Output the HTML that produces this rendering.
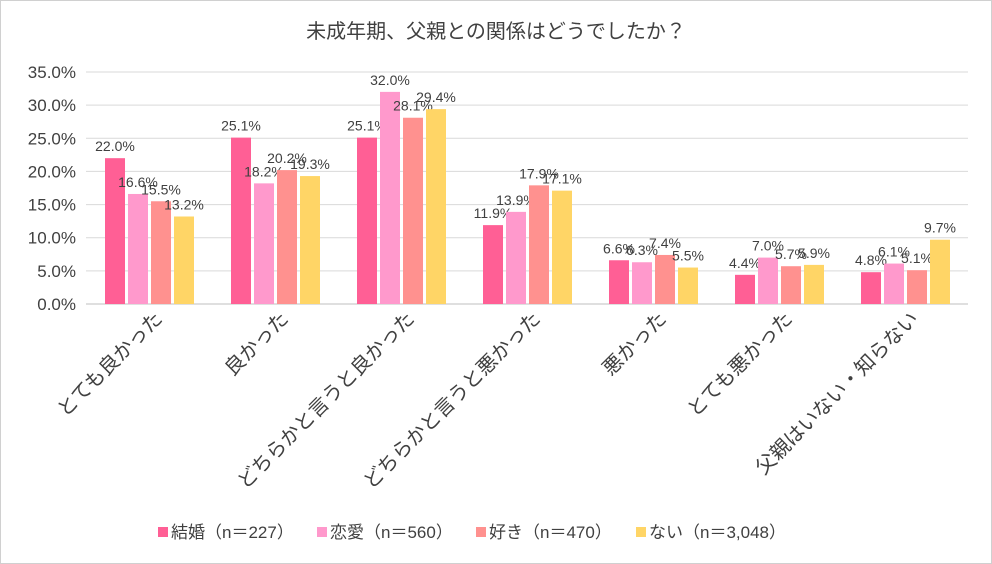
<!DOCTYPE html>
<html><head><meta charset="utf-8"><style>
body{margin:0;background:#fff}
svg{display:block;font-family:"Liberation Sans","Noto Sans CJK JP",sans-serif}
</style></head><body>
<svg id="c" width="992" height="564" viewBox="0 0 992 564">
<rect x="0.5" y="0.5" width="991" height="563" fill="#fff" stroke="#d0d0d0"/>
<text x="496" y="38" text-anchor="middle" font-size="20" fill="#404040">未成年期、父親との関係はどうでしたか？</text>
<g id="grid"></g><g id="bars"></g><g id="cats"></g>
<g id="legend"></g>
</svg>
<script>
const categories=["とても良かった","良かった","どちらかと言うと良かった","どちらかと言うと悪かった","悪かった","とても悪かった","父親はいない・知らない"];
const seriesNames=["結婚（n＝227）","恋愛（n＝560）","好き（n＝470）","ない（n＝3,048）"];
const s1=[22.0,25.1,25.1,11.9,6.6,4.4,4.8];
const s2=[16.6,18.2,32.0,13.9,6.3,7.0,6.1];
const s3=[15.5,20.2,28.1,17.9,7.4,5.7,5.1];
const s4=[13.2,19.3,29.4,17.1,5.5,5.9,9.7];
const ticks=[0,5,10,15,20,25,30,35];
const series=[s1,s2,s3,s4];
const colors=["#FF5F95","#FF99CC","#FF918F","#FFD566"];
const NS="http://www.w3.org/2000/svg";
const y=v=>304-v*(232/35);
const xc=i=>149.5+i*126;
function mk(tag,attrs,parent,text){const e=document.createElementNS(NS,tag);for(const k in attrs)e.setAttribute(k,attrs[k]);if(text!==undefined)e.textContent=text;parent.appendChild(e);return e;}
const grid=document.getElementById('grid');
ticks.forEach(t=>{
 const l=mk('line',{x1:86,x2:968,y1:y(t),y2:y(t),stroke:t===0?'#bfbfbf':'#d9d9d9','stroke-width':1},grid);
 
 
 const tx=mk('text',{x:76,y:y(t)+6,'text-anchor':'end','font-size':17,fill:'#404040'},grid,t.toFixed(1)+'%');
 
 
});
const bars=document.getElementById('bars');
categories.forEach((c,i)=>{
 series.forEach((s,j)=>{
  const bx=xc(i)-44.5+j*23;
  const r=mk('rect',{x:bx,y:y(s[i]),width:20,height:y(0)-y(s[i]),fill:colors[j]},bars);
  
  
  const t=mk('text',{x:bx+10,y:y(s[i])-7,'text-anchor':'middle','font-size':14,fill:'#404040'},bars,s[i].toFixed(1)+'%');
  
  
 });
 const cx=xc(i)+14, cy=320;
 const ct=mk('text',{x:cx,y:cy,'text-anchor':'end','font-size':20,fill:'#404040',transform:`rotate(-45 ${cx} ${cy})`},document.getElementById('cats'),c);
 
 
});
const lg=document.getElementById('legend');
const lx=[158,317,476,636];
seriesNames.forEach((n,j)=>{
 const r=mk('rect',{x:lx[j],y:527,width:10,height:10,fill:colors[j]},lg);
 
 
 const t=mk('text',{x:lx[j]+13,y:538,'font-size':17,fill:'#404040'},lg,n);
 
 
});
</script>
</body></html>
